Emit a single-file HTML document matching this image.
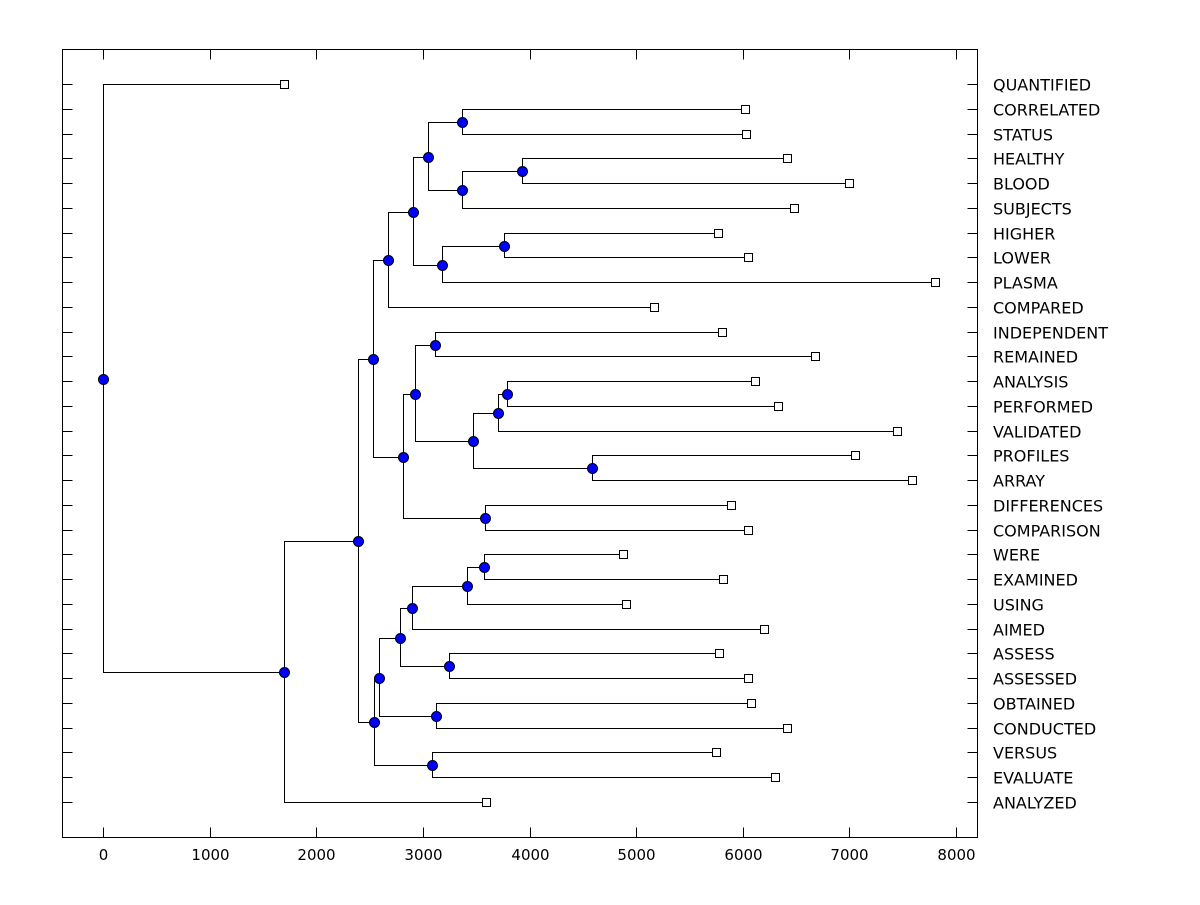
<!DOCTYPE html>
<html><head><meta charset="utf-8"><style>
body{margin:0;background:#fff;}
svg text{font-family:"DejaVu Sans","Liberation Sans",Arial,sans-serif;}
</style></head><body>
<svg id="chart" width="1200" height="900" xmlns="http://www.w3.org/2000/svg">
<rect x="0" y="0" width="1200" height="900" fill="#fff"/>
<g id="frame" shape-rendering="crispEdges"></g>
<g id="links" shape-rendering="crispEdges"></g>
<g id="nodes"></g>
<g id="leaves" shape-rendering="crispEdges"></g>
<g id="labels"></g>
</svg>
<script>
const leafNames = ["QUANTIFIED","CORRELATED","STATUS","HEALTHY","BLOOD","SUBJECTS","HIGHER","LOWER","PLASMA","COMPARED","INDEPENDENT","REMAINED","ANALYSIS","PERFORMED","VALIDATED","PROFILES","ARRAY","DIFFERENCES","COMPARISON","WERE","EXAMINED","USING","AIMED","ASSESS","ASSESSED","OBTAINED","CONDUCTED","VERSUS","EVALUATE","ANALYZED"];
const leafValues = [1698,6022,6032,6417,6998,6482,5769,6051,7805,5169,5807,6679,6116,6332,7448,7054,7589,5891,6051,4878,5816,4906,6201,5779,6051,6079,6417,5750,6304,3593];
const nodeNames = ["J","L","K","H","M","I","G","E","P","T","R","S","Q","N","O","F","C","AB","AA","Y","Z","W","X","U","V","D","B","A","ROOT"];
const nodeHeights = [3368,3931,3368,3049,3762,3180,2908,2674,3114,3790,3705,4587,3471,2927,3583,2814,2533,3574,3415,2899,3246,2786,3124,2589,3086,2542,2392,1698,0];
const nodeChildren = [[1,2],[3,4],["L",5],["J","K"],[6,7],["M",8],["H","I"],["G",9],[10,11],[12,13],["T",14],[15,16],["R","S"],["P","Q"],[17,18],["N","O"],["E","F"],[19,20],["AB",21],["AA",22],[23,24],["Y","Z"],[25,26],["W","X"],[27,28],["U","V"],["C","D"],["B",29],[0,"A"]];
const xTicks = [0,1000,2000,3000,4000,5000,6000,7000,8000];

const NS="http://www.w3.org/2000/svg";
const L=62.5,R=977.5,T=49.5,B=837.5;
const xs=v=>Math.round(103+v*(956-103)/8000)+0.5;
const ys=i=>Math.round(84+i*(802-84)/29)+0.5;
function mk(tag,attrs,parent){const e=document.createElementNS(NS,tag);for(const k in attrs)e.setAttribute(k,attrs[k]);document.getElementById(parent).appendChild(e);return e;}

let fr=mk("rect",{x:L,y:T,width:R-L,height:B-T,fill:"none",stroke:"#000","stroke-width":1},"frame");


xTicks.forEach(t=>{
  const x=xs(t);
  let a=mk("line",{x1:x,x2:x,y1:B,y2:B-10,stroke:"#000"},"frame");
  
  
  let b=mk("line",{x1:x,x2:x,y1:T,y2:T+10,stroke:"#000"},"frame");
  
  
  let tx=mk("text",{x:x,y:860,"font-size":15,"text-anchor":"middle",fill:"#000"},"frame");
  tx.textContent=t;
  
  
});

const pos={};
leafNames.forEach((n,i)=>{pos[i]={x:xs(leafValues[i]),y:ys(i)};});
nodeNames.forEach((n,k)=>{
  const [a,b]=nodeChildren[k];
  const pa=pos[a],pb=pos[b];
  const x=xs(nodeHeights[k]);
  pos[n]={x:x,y:Math.round((pa.y+pb.y)/2)+0.5};
  const d=`M${pa.x},${pa.y}H${x}V${pb.y}H${pb.x}`;
  let p=mk("path",{d:d,fill:"none",stroke:"#000","stroke-width":1},"links");
  
  
});
nodeNames.forEach((n,k)=>{
  const c=mk("circle",{cx:pos[n].x,cy:pos[n].y,r:5,fill:"#0000ff",stroke:"#000","stroke-width":1},"nodes");
  
  
});
leafNames.forEach((n,i)=>{
  const y=ys(i);
  const s=mk("rect",{x:pos[i].x-4,y:y-4,width:8,height:8,fill:"#fff",stroke:"#000","stroke-width":1},"leaves");
  
  
  let t1=mk("line",{x1:L,x2:L+10,y1:y,y2:y,stroke:"#000"},"frame");
  
  
  let t2=mk("line",{x1:R-10,x2:R,y1:y,y2:y,stroke:"#000"},"frame");
  
  
  const tx=mk("text",{x:993,y:y+6,"font-size":16,fill:"#000"},"labels");
  tx.textContent=n;
  
  
});
</script>
</body></html>
